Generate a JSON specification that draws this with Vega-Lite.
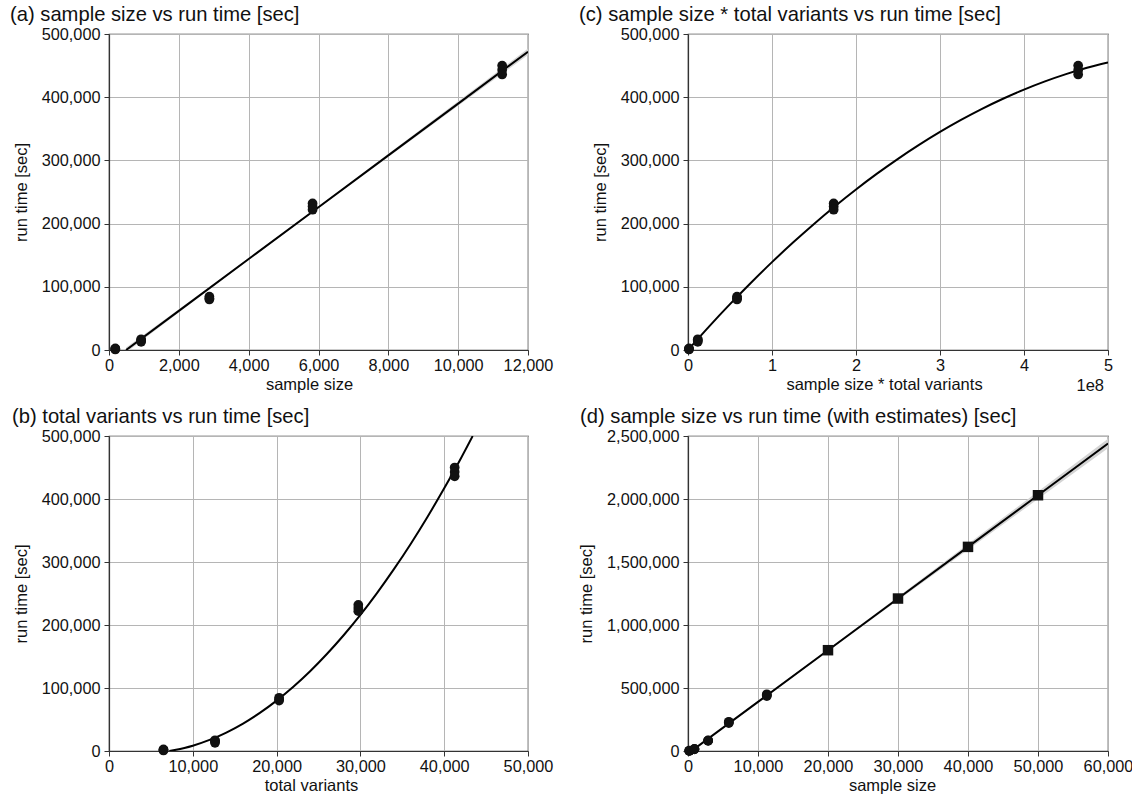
{
  "$schema": "https://vega.github.io/schema/vega-lite/v6.json",
  "background": "white",
  "padding": {"left": 9, "top": 4, "right": 0, "bottom": 0},
  "columns": 2,
  "spacing": {"row": 86, "column": 160},
  "bounds": "flush",
  "datasets": {
    "obs": [
      {"sample_size": 180, "total_variants": 6500, "product": 0.0117, "run_time": 2500},
      {"sample_size": 180, "total_variants": 6500, "product": 0.0117, "run_time": 1500},
      {"sample_size": 180, "total_variants": 6500, "product": 0.0117, "run_time": 800},
      {"sample_size": 920, "total_variants": 12650, "product": 0.1164, "run_time": 17000},
      {"sample_size": 920, "total_variants": 12650, "product": 0.1164, "run_time": 15000},
      {"sample_size": 920, "total_variants": 12650, "product": 0.1164, "run_time": 13000},
      {"sample_size": 2875, "total_variants": 20300, "product": 0.5836, "run_time": 84500},
      {"sample_size": 2875, "total_variants": 20300, "product": 0.5836, "run_time": 82000},
      {"sample_size": 2875, "total_variants": 20300, "product": 0.5836, "run_time": 80000},
      {"sample_size": 5830, "total_variants": 29750, "product": 1.734, "run_time": 232000},
      {"sample_size": 5830, "total_variants": 29750, "product": 1.734, "run_time": 227000},
      {"sample_size": 5830, "total_variants": 29750, "product": 1.734, "run_time": 222000},
      {"sample_size": 11260, "total_variants": 41250, "product": 4.645, "run_time": 450000},
      {"sample_size": 11260, "total_variants": 41250, "product": 4.645, "run_time": 443000},
      {"sample_size": 11260, "total_variants": 41250, "product": 4.645, "run_time": 436000}
    ],
    "est": [
      {"sample_size": 20000, "run_time": 800000},
      {"sample_size": 30000, "run_time": 1210000},
      {"sample_size": 40000, "run_time": 1620000},
      {"sample_size": 50000, "run_time": 2030000}
    ],
    "fitA": [
      {"x": 490, "y": 0, "lo": -4000, "hi": 4000},
      {"x": 2000, "y": 61900, "lo": 59400, "hi": 64400},
      {"x": 4000, "y": 143900, "lo": 142400, "hi": 145400},
      {"x": 6000, "y": 225900, "lo": 224400, "hi": 227400},
      {"x": 8000, "y": 307900, "lo": 305400, "hi": 310400},
      {"x": 10000, "y": 389900, "lo": 386400, "hi": 393400},
      {"x": 12000, "y": 471900, "lo": 466900, "hi": 476900}
    ],
    "fitB": [
      {"x": 7200, "y": 0}, {"x": 8000, "y": 1900}, {"x": 9000, "y": 4850},
      {"x": 10000, "y": 8400}, {"x": 12000, "y": 17600}, {"x": 14000, "y": 29300},
      {"x": 16000, "y": 43600}, {"x": 18000, "y": 60500}, {"x": 20000, "y": 80000},
      {"x": 22000, "y": 102000}, {"x": 24000, "y": 126600}, {"x": 26000, "y": 153900},
      {"x": 28000, "y": 183700}, {"x": 30000, "y": 216000}, {"x": 32000, "y": 251000},
      {"x": 34000, "y": 288600}, {"x": 36000, "y": 328700}, {"x": 38000, "y": 371500},
      {"x": 40000, "y": 417000}, {"x": 42000, "y": 464700}, {"x": 43400, "y": 500000}
    ],
    "fitC": [
      {"x": 0, "y": 0}, {"x": 0.25, "y": 37000}, {"x": 0.5, "y": 72500},
      {"x": 0.75, "y": 106500}, {"x": 1, "y": 139000}, {"x": 1.25, "y": 170000},
      {"x": 1.5, "y": 199500}, {"x": 1.75, "y": 227500}, {"x": 2, "y": 254000},
      {"x": 2.25, "y": 279000}, {"x": 2.5, "y": 302500}, {"x": 2.75, "y": 324500},
      {"x": 3, "y": 345000}, {"x": 3.25, "y": 364000}, {"x": 3.5, "y": 381500},
      {"x": 3.75, "y": 397500}, {"x": 4, "y": 412000}, {"x": 4.25, "y": 425000},
      {"x": 4.5, "y": 436500}, {"x": 4.75, "y": 446500}, {"x": 5, "y": 455000}
    ],
    "fitD": [
      {"x": 490, "y": 0, "lo": -12000, "hi": 12000},
      {"x": 10000, "y": 389900, "lo": 381900, "hi": 397900},
      {"x": 20000, "y": 800000, "lo": 792000, "hi": 808000},
      {"x": 30000, "y": 1210000, "lo": 1196000, "hi": 1224000},
      {"x": 40000, "y": 1620000, "lo": 1598000, "hi": 1642000},
      {"x": 50000, "y": 2030000, "lo": 2000000, "hi": 2060000},
      {"x": 60000, "y": 2440000, "lo": 2402000, "hi": 2478000}
    ],
    "offsetC": [
      {"x": 5, "y": 0, "label": "1e8"}
    ]
  },
  "concat": [
    {
      "width": 419,
      "height": 316,
      "title": {"text": "(a) sample size vs run time [sec]", "dx": -99},
      "layer": [
        {
          "data": {"name": "fitA"},
          "mark": {"type": "area", "color": "#d4d4d4", "clip": true},
          "encoding": {
            "x": {"field": "x", "type": "quantitative", "title": "sample size",
                  "scale": {"domain": [0, 12000], "nice": false, "zero": false},
                  "axis": {"values": [0, 2000, 4000, 6000, 8000, 10000, 12000], "format": ",d", "titleX": 200}},
            "y": {"field": "lo", "type": "quantitative", "title": "run time [sec]",
                  "scale": {"domain": [0, 500000], "nice": false},
                  "axis": {"values": [0, 100000, 200000, 300000, 400000, 500000], "format": ",d"}},
            "y2": {"field": "hi"}
          }
        },
        {
          "data": {"name": "fitA"},
          "mark": {"type": "line", "color": "#000000", "strokeWidth": 2, "clip": true},
          "encoding": {
            "x": {"field": "x", "type": "quantitative", "title": "sample size"},
            "y": {"field": "y", "type": "quantitative", "title": "run time [sec]"}
          }
        },
        {
          "data": {"name": "obs"},
          "mark": {"type": "circle", "size": 95, "color": "#111111", "opacity": 1},
          "encoding": {
            "x": {"field": "sample_size", "type": "quantitative", "title": "sample size"},
            "y": {"field": "run_time", "type": "quantitative", "title": "run time [sec]"}
          }
        }
      ]
    },
    {
      "width": 420,
      "height": 316,
      "title": {"text": "(c) sample size * total variants vs run time [sec]", "dx": -109},
      "layer": [
        {
          "data": {"name": "fitC"},
          "mark": {"type": "line", "color": "#000000", "strokeWidth": 2, "clip": true, "interpolate": "monotone"},
          "encoding": {
            "x": {"field": "x", "type": "quantitative", "title": "sample size * total variants",
                  "scale": {"domain": [0, 5], "nice": false, "zero": false},
                  "axis": {"values": [0, 1, 2, 3, 4, 5], "format": "d", "titleX": 196}},
            "y": {"field": "y", "type": "quantitative", "title": "run time [sec]",
                  "scale": {"domain": [0, 500000], "nice": false},
                  "axis": {"values": [0, 100000, 200000, 300000, 400000, 500000], "format": ",d"}}
          }
        },
        {
          "data": {"name": "obs"},
          "mark": {"type": "circle", "size": 95, "color": "#111111", "opacity": 1},
          "encoding": {
            "x": {"field": "product", "type": "quantitative", "title": "sample size * total variants"},
            "y": {"field": "run_time", "type": "quantitative", "title": "run time [sec]"}
          }
        },
        {
          "data": {"name": "offsetC"},
          "mark": {"type": "text", "align": "right", "baseline": "top", "dy": 28, "dx": -4, "fontSize": 16.5, "color": "#111111"},
          "encoding": {
            "x": {"field": "x", "type": "quantitative", "title": "sample size * total variants"},
            "y": {"field": "y", "type": "quantitative", "title": "run time [sec]"},
            "text": {"field": "label"}
          }
        }
      ]
    },
    {
      "width": 419,
      "height": 315,
      "title": {"text": "(b) total variants vs run time [sec]", "dx": -97},
      "layer": [
        {
          "data": {"name": "fitB"},
          "mark": {"type": "line", "color": "#000000", "strokeWidth": 2, "clip": true, "interpolate": "monotone"},
          "encoding": {
            "x": {"field": "x", "type": "quantitative", "title": "total variants",
                  "scale": {"domain": [0, 50000], "nice": false, "zero": false},
                  "axis": {"values": [0, 10000, 20000, 30000, 40000, 50000], "format": ",d", "titleX": 202}},
            "y": {"field": "y", "type": "quantitative", "title": "run time [sec]",
                  "scale": {"domain": [0, 500000], "nice": false},
                  "axis": {"values": [0, 100000, 200000, 300000, 400000, 500000], "format": ",d"}}
          }
        },
        {
          "data": {"name": "obs"},
          "mark": {"type": "circle", "size": 95, "color": "#111111", "opacity": 1},
          "encoding": {
            "x": {"field": "total_variants", "type": "quantitative", "title": "total variants"},
            "y": {"field": "run_time", "type": "quantitative", "title": "run time [sec]"}
          }
        }
      ]
    },
    {
      "width": 420,
      "height": 315,
      "title": {"text": "(d) sample size vs run time (with estimates) [sec]", "dx": -108},
      "layer": [
        {
          "data": {"name": "fitD"},
          "mark": {"type": "area", "color": "#d4d4d4", "clip": true},
          "encoding": {
            "x": {"field": "x", "type": "quantitative", "title": "sample size",
                  "scale": {"domain": [0, 60000], "nice": false, "zero": false},
                  "axis": {"values": [0, 10000, 20000, 30000, 40000, 50000, 60000], "format": ",d", "titleX": 204}},
            "y": {"field": "lo", "type": "quantitative", "title": "run time [sec]",
                  "scale": {"domain": [0, 2500000], "nice": false},
                  "axis": {"values": [0, 500000, 1000000, 1500000, 2000000, 2500000], "format": ",d"}},
            "y2": {"field": "hi"}
          }
        },
        {
          "data": {"name": "fitD"},
          "mark": {"type": "line", "color": "#000000", "strokeWidth": 2, "clip": true},
          "encoding": {
            "x": {"field": "x", "type": "quantitative", "title": "sample size"},
            "y": {"field": "y", "type": "quantitative", "title": "run time [sec]"}
          }
        },
        {
          "data": {"name": "obs"},
          "mark": {"type": "circle", "size": 95, "color": "#111111", "opacity": 1},
          "encoding": {
            "x": {"field": "sample_size", "type": "quantitative", "title": "sample size"},
            "y": {"field": "run_time", "type": "quantitative", "title": "run time [sec]"}
          }
        },
        {
          "data": {"name": "est"},
          "mark": {"type": "square", "size": 110, "color": "#111111", "opacity": 1},
          "encoding": {
            "x": {"field": "sample_size", "type": "quantitative", "title": "sample size"},
            "y": {"field": "run_time", "type": "quantitative", "title": "run time [sec]"}
          }
        }
      ]
    }
  ],
  "config": {
    "font": "Liberation Sans",
    "view": {"stroke": "#333333", "strokeWidth": 1.2},
    "title": {"fontSize": 20.2, "fontWeight": "normal", "color": "#111111", "anchor": "start", "frame": "group", "baseline": "alphabetic", "offset": 1},
    "axis": {
      "grid": true,
      "gridColor": "#b5b5b5",
      "gridWidth": 1,
      "domainColor": "#333333",
      "domainWidth": 1.2,
      "tickColor": "#333333",
      "tickSize": 5,
      "labelFontSize": 16.3,
      "labelColor": "#111111",
      "labelPadding": 2,
      "labelFlush": false,
      "labelOverlap": false,
      "titleFontSize": 16.5,
      "titleFontWeight": "normal",
      "titleColor": "#111111"
    },
    "axisX": {"titlePadding": 3},
    "axisY": {"titlePadding": 12, "labelPadding": 4}
  }
}
